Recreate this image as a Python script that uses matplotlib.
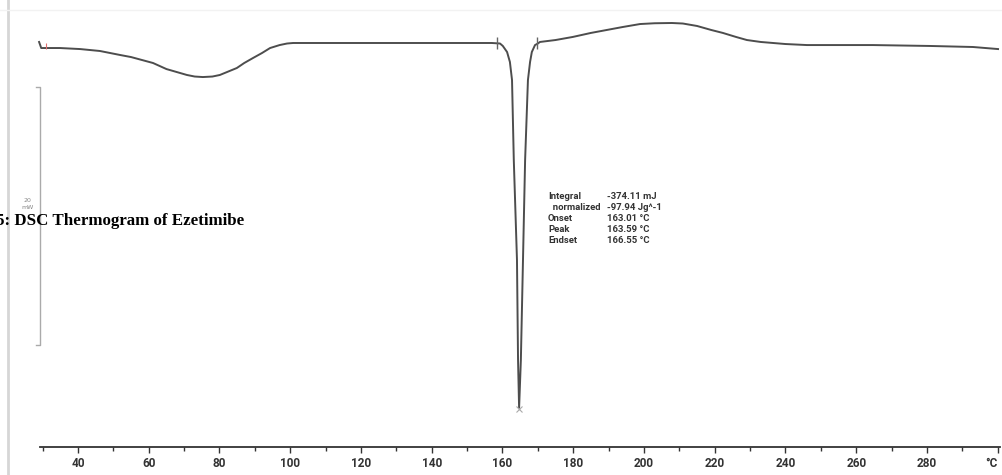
import numpy as np
import matplotlib
matplotlib.use("Agg")
import matplotlib.pyplot as plt

# DSC trace: temperature (°C) and heat flow (mW, baseline = 0)
temp = [29.0, 29.6, 34.9, 40.6, 46.2, 51.9, 55.0, 61.2, 65.0, 70.8, 73.0, 75.3,
        78.0, 80.1, 84.9, 87.0, 89.5, 92.0, 94.3, 97.0, 99.1, 100.8, 130.0,
        157.0, 159.3, 160.1, 161.3, 162.1, 162.7, 163.2, 164.1, 164.4, 164.7,
        165.2, 165.8, 166.4, 167.2, 167.8, 168.3, 169.2, 170.0, 170.6, 175.0,
        179.9, 185.0, 189.5, 194.0, 198.9, 203.0, 207.9, 211.0, 215.0, 219.0,
        222.3, 226.0, 229.1, 233.0, 236.5, 240.0, 246.1, 264.7, 280.8, 293.0,
        300.1]
heat_flow = [0.08, -0.39, -0.39, -0.47, -0.62, -0.93, -1.09, -1.55, -2.02, -2.48,
             -2.60, -2.64, -2.60, -2.48, -1.94, -1.55, -1.16, -0.78, -0.39, -0.16,
             -0.04, 0.0, 0.0, 0.0, -0.04, -0.23, -0.70, -1.47, -2.87, -9.07,
             -16.82, -24.57, -28.29, -24.57, -16.82, -9.07, -2.87, -1.47, -0.70,
             -0.16, -0.04, 0.08, 0.23, 0.47, 0.78, 1.01, 1.24, 1.47, 1.53, 1.55,
             1.51, 1.32, 1.01, 0.78, 0.47, 0.23, 0.08, 0.0, -0.08, -0.16, -0.16,
             -0.23, -0.31, -0.47]

major_ticks = [40, 60, 80, 100, 120, 140, 160, 180, 200, 220, 240, 260, 280, 300]
major_labels = ["40", "60", "80", "100", "120", "140", "160", "180", "200",
                "220", "240", "260", "280", "°C"]
minor_ticks = [30, 50, 70, 90, 110, 130, 150, 170, 190, 210, 230, 250, 270, 290]

onset_end = [158.4, 169.7]
peak_t, peak_y = 164.7, -28.29

result_names = ["Integral", "  normalized", "Onset", "Peak", "Endset"]
result_values = ["-374.11 mJ", "-97.94 Jg^-1", "163.01 °C", "163.59 °C", "166.55 °C"]

fig = plt.figure(figsize=(10.03, 4.75), dpi=100)
ax = fig.add_axes([0, 0, 1, 1])
ax.set_xlim(17.95, 301.5)
ax.set_ylim(-33.49, 3.333)

ax.plot(temp, heat_flow, color="#4d4d4d", lw=1.4, solid_joinstyle="round")

# onset / endset markers and peak marker
ax.plot(onset_end, [0, 0], ls="none", marker="|", ms=8, mew=1.0, color="#666666")
ax.plot([peak_t], [peak_y - 0.1], ls="none", marker="x", ms=4, mew=0.8, color="#aaaaaa")
ax.plot([31.0], [-0.2], ls="none", marker="|", ms=4, mew=0.8, color="#e07070")

# scale bar: 20 mW
bar_x = 29.3
ax.plot([bar_x - 1.3, bar_x, bar_x, bar_x - 1.3], [-3.4, -3.4, -23.4, -23.4],
        color="#aaaaaa", lw=1.0)
ax.text(25.6, -12.5, "20\nmW", fontsize=4.5, color="#888888",
        ha="center", va="center", linespacing=1.4)

# results table
for i, (name, val) in enumerate(zip(result_names, result_values)):
    y = -11.9 - i * 0.86
    ax.text(172.9, y, name, fontsize=6.8, fontweight="bold", color="#333333",
            family="Roboto", va="center", ha="left")
    ax.text(189.6, y, val, fontsize=6.8, fontweight="bold", color="#333333",
            family="Roboto", va="center", ha="left")

# x axis
for s in ["left", "right", "top"]:
    ax.spines[s].set_visible(False)
ax.spines["bottom"].set_position(("data", -31.32))
ax.spines["bottom"].set_bounds(29.3, 300.6)
ax.spines["bottom"].set_color("#333333")
ax.spines["bottom"].set_linewidth(1.3)
ax.set_yticks([])
ax.set_xticks(major_ticks)
ax.set_xticklabels(major_labels, fontsize=8.5, fontweight="bold", color="#333333",
                   family="Roboto")
ax.get_xticklabels()[-1].set_horizontalalignment("right")
ax.set_xticks(minor_ticks, minor=True)
ax.tick_params(axis="x", which="major", direction="out", length=4, width=1.0,
               color="#333333", pad=3)
ax.tick_params(axis="x", which="minor", direction="out", length=3, width=1.0,
               color="#333333")

# page edge lines
fig.add_artist(plt.Line2D([0.008, 0.008], [0, 1], color="#d6d6d6", lw=2))
fig.add_artist(plt.Line2D([0, 1], [0.979, 0.979], color="#f2f2f2", lw=1))

# caption cut off at the left edge
fig.text(-0.004, 0.535, "5: DSC Thermogram of Ezetimibe", fontsize=12.2,
         fontweight="bold", family="Liberation Serif", color="black",
         ha="left", va="center")

fig.savefig("out.png", dpi=100)
